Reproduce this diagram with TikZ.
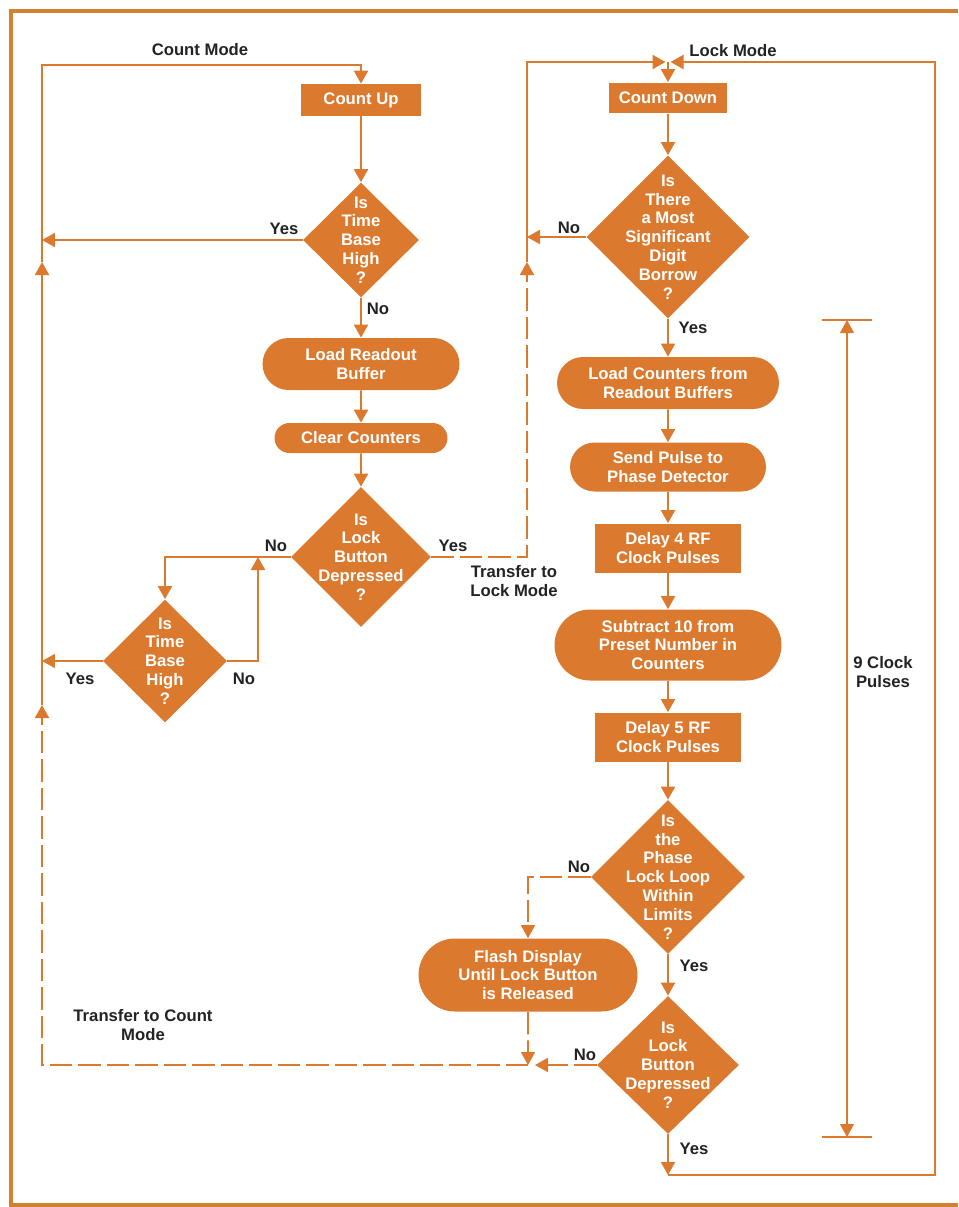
\documentclass[tikz,border=0pt]{standalone}
\usepackage{fontspec}
\setmainfont{Liberation Sans}
\usetikzlibrary{arrows.meta,shapes.geometric,shapes.misc}
\definecolor{hporange}{RGB}{219,122,46}
\definecolor{hpframe}{RGB}{212,128,48}
\definecolor{hptext}{RGB}{35,35,35}

\begin{document}
\begin{tikzpicture}[x=0.02cm, y=-0.02cm, >={Triangle[length=0.26cm,width=0.28cm]},
		flow/.style={hporange, line width=1.1pt},
		transfer/.style={flow, dash pattern=on 0.45cm off 0.12cm},
		box/.style={rectangle, fill=hporange, text=white, font=\bfseries\fontsize{9.5}{10.7}\selectfont, align=center, inner sep=0pt},
		pill/.style={box, rounded rectangle},
		dia/.style={diamond, fill=hporange, inner sep=0pt},
		dtext/.style={text=white, font=\bfseries\fontsize{9.5}{10.7}\selectfont, align=center, inner sep=0pt},
		lbl/.style={text=hptext, font=\bfseries\fontsize{9.5}{10.7}\selectfont, align=center, inner sep=0pt}]
		\useasboundingbox (0,0) rectangle (958,1207);
		\draw[hpframe, line width=0.08cm] (958,11) -- (11,11) -- (11,1205) -- (958,1205);

		% count mode
		\node[box, minimum width=2.4cm, minimum height=0.64cm] (cu) at (361,100) {Count Up};
		\node[dia, minimum width=2.32cm, minimum height=2.3cm, label={[dtext]center:Is\\Time\\Base\\High\\?}] (d1) at (361,240) {};
		\node[pill, minimum width=3.94cm, minimum height=1.04cm] (lrb) at (361,364) {Load Readout\\Buffer};
		\node[pill, minimum width=3.46cm, minimum height=0.6cm] (cc) at (361,438) {Clear Counters};
		\node[dia, minimum width=2.8cm, minimum height=2.8cm, label={[dtext]center:Is\\Lock\\Button\\Depressed\\?}] (d3) at (361,557) {};
		\node[dia, minimum width=2.48cm, minimum height=2.46cm, label={[dtext]center:Is\\Time\\Base\\High\\?}] (d2) at (165,661) {};

		% lock mode
		\node[box, minimum width=2.38cm, minimum height=0.62cm] (cd) at (668,98) {Count Down};
		\node[dia, minimum width=3.26cm, minimum height=3.26cm, label={[dtext]center:Is\\There\\a Most\\Significant\\Digit\\Borrow\\?}] (d4) at (668,237) {};
		\node[pill, minimum width=4.44cm, minimum height=1.04cm] (lcb) at (668,383) {Load Counters from\\Readout Buffers};
		\node[pill, minimum width=3.92cm, minimum height=0.98cm] (spd) at (668,467) {Send Pulse to\\Phase Detector};
		\node[box, minimum width=2.92cm, minimum height=0.98cm] (dl4) at (668,548) {Delay 4 RF\\Clock Pulses};
		\node[pill, minimum width=4.54cm, minimum height=1.42cm] (sub) at (668,645) {Subtract 10 from\\Preset Number in\\Counters};
		\node[box, minimum width=2.92cm, minimum height=0.98cm] (dl5) at (668,737) {Delay 5 RF\\Clock Pulses};
		\node[dia, minimum width=3.08cm, minimum height=3.08cm, label={[dtext]center:Is\\the\\Phase\\Lock Loop\\Within\\Limits\\?}] (d5) at (668,877) {};
		\node[pill, minimum width=4.38cm, minimum height=1.46cm] (fd) at (528,975) {Flash Display\\Until Lock Button\\is Released};
		\node[dia, minimum width=2.84cm, minimum height=2.76cm, label={[dtext]center:Is\\Lock\\Button\\Depressed\\?}] (d6) at (668,1065) {};

		\coordinate (cmtop) at (361,65);
		\coordinate (cmA) at (42,262);
		\coordinate (cmB) at (42,705);
		\coordinate (jL) at (258,557);
		\coordinate (lmA) at (527,262);
		\coordinate (lmJ) at (668,62);
		\coordinate (lmR) at (935,62);
		\coordinate (lmC) at (668,1175);
		\coordinate (jB) at (528,1065);
		\coordinate (dimT) at (847,320);
		\coordinate (dimB) at (847,1137);

		\draw[flow,->] (cmA) |- (cmtop) -- (cu);
		\draw[flow,->] (cu) -- (d1);
		\draw[flow,->] (d1.west) -- (d1.west -| cmA);
		\draw[flow,->] (d1) -- (lrb);
		\draw[flow,->] (lrb) -- (cc);
		\draw[flow,->] (cc) -- (d3);
		\draw[flow,->] (d3.west) -| (d2.north);
		\draw[flow,->] (d2.east) -| (jL);
		\draw[flow,->] (d2.west) -- (d2.west -| cmA);
		\draw[flow,->] (cmB) -- (cmA);
		\draw[transfer,->] (d3.east) -| (lmA);
		\draw[flow,->] (lmA) |- ([xshift=-0.05cm]lmJ);
		\draw[flow,->] (d4.west) -- (d4.west -| lmA);
		\draw[flow,->] (lmC) -| (lmR) -- ([xshift=0.05cm]lmJ);
		\draw[flow,->] (lmJ) -- (cd);
		\foreach \a/\b in {cd/d4, d4/lcb, lcb/spd, spd/dl4, dl4/sub, sub/dl5, dl5/d5, d5/d6}
			\draw[flow,->] (\a) -- (\b);
		\draw[flow,->] (d6) -- (lmC);
		\draw[transfer,->] (d5.west) -| (fd.north);
		\draw[transfer,->] (fd) -- (jB);
		\draw[transfer,->] (d6.west) -- ([xshift=0.14cm]jB);
		\draw[transfer,->] (jB) -| (cmB);

		% 9 clock pulses
		\draw[hporange, line width=0.6pt, <->] (dimT) -- (dimB);
		\draw[hporange, line width=1pt] ([xshift=-0.5cm]dimT) -- ([xshift=0.5cm]dimT);
		\draw[hporange, line width=1pt] ([xshift=-0.5cm]dimB) -- ([xshift=0.5cm]dimB);
		\node[lbl] (clk) at (883,672) {9 Clock\\Pulses};

		\node[lbl] (cmlbl) at (200,50) {Count Mode};
		\node[lbl] (lmlbl) at (733,51) {Lock Mode};
		\node[lbl] (y1) at (284,229) {Yes};
		\node[lbl] (n1) at (378,309) {No};
		\node[lbl] (n3) at (276,546) {No};
		\node[lbl] (y3) at (453,546) {Yes};
		\node[lbl] (tlm) at (514,581) {Transfer to\\Lock Mode};
		\node[lbl] (y2) at (80,679) {Yes};
		\node[lbl] (n2) at (244,679) {No};
		\node[lbl] (n4) at (569,228) {No};
		\node[lbl] (y4) at (693,328) {Yes};
		\node[lbl] (n5) at (579,867) {No};
		\node[lbl] (y5) at (694,966) {Yes};
		\node[lbl] (n6) at (585,1055) {No};
		\node[lbl] (y6) at (694,1149) {Yes};
		\node[lbl] (tcm) at (143,1025) {Transfer to Count\\Mode};
	\end{tikzpicture}
\end{document}
